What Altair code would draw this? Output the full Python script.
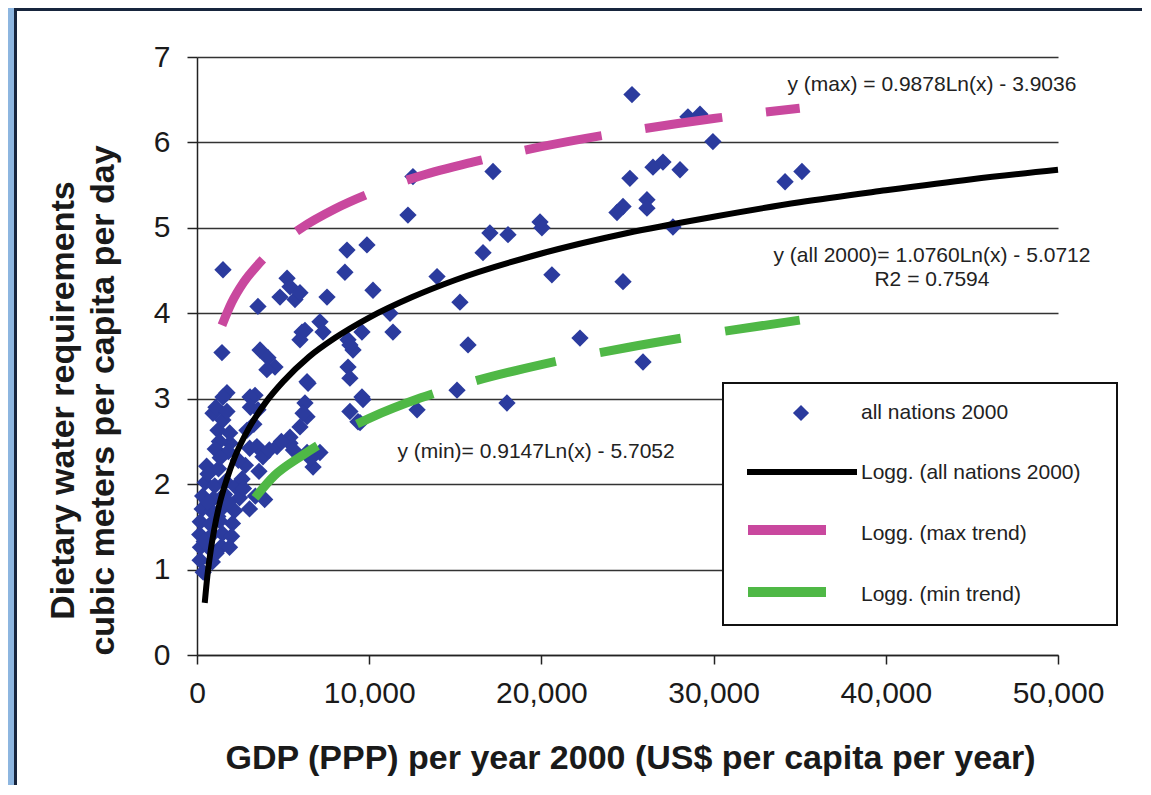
import altair as alt
import pandas as pd

FONT = "Liberation Sans"

# ---- scatter data: GDP (PPP, US$/capita/yr) and dietary water (m3/capita/day)
gdp = [
    25260, 28510, 29210, 29960, 17190, 12540, 12250, 25140, 26480, 27060, 28050,
    24740, 24390, 26130, 26130, 34150, 35130, 27640, 17010, 18060, 16610, 19920,
    20030, 20610, 24740, 15270, 15740, 22240, 25900, 15100, 18000, 13940, 12780,
    1510, 3540, 4820, 5230, 5400, 5690, 7550, 8710, 9870, 8590, 10220, 11210,
    11380, 1450, 3660, 4120, 4530, 4060, 6100, 5980, 7140, 7320, 9580, 8770,
    9060, 8770, 8880, 6390, 1740, 3370, 9580, 6270, 5980, 8880, 6270, 6390,
    8880, 9350, 9470, 9640,
    1510, 930, 1220, 1920, 3080, 3540, 2900, 3480, 3830, 4650, 5400, 5980,
    6160, 6450, 5400, 6390, 7140, 6740, 1500, 1100, 1740, 1900, 1300, 4200,
    4900, 5600, 6600, 3300, 3100,
    480, 1030, 1660, 2240, 330, 960, 1600, 2470, 3390, 3930, 300, 850, 1470,
    2180, 3050, 190, 770, 1320, 2060, 160, 730, 1480, 2010, 200, 760, 1420,
    180, 890, 360, 560, 1250, 2810, 1060, 1820, 3060,
    620, 1210, 1830, 2620, 420, 1110, 1890, 640, 1350, 2400, 2700, 3600,
]
water = [
    6.56, 6.30, 6.33, 6.01, 5.66, 5.60, 5.15, 5.58, 5.71, 5.77, 5.68,
    5.25, 5.18, 5.33, 5.23, 5.54, 5.66, 5.01, 4.94, 4.92, 4.71, 5.07,
    5.00, 4.45, 4.37, 4.13, 3.63, 3.71, 3.43, 3.10, 2.95, 4.43, 2.87,
    4.51, 4.08, 4.19, 4.41, 4.31, 4.16, 4.19, 4.74, 4.80, 4.48, 4.27, 4.00,
    3.78, 3.54, 3.57, 3.48, 3.37, 3.34, 3.78, 3.69, 3.90, 3.78, 3.78, 3.69,
    3.57, 3.37, 3.24, 3.20, 3.07, 3.04, 3.02, 3.80, 4.24, 3.63, 2.95, 2.79,
    2.85, 2.73, 2.72, 2.99,
    3.02, 2.83, 2.63, 2.48, 3.02, 2.87, 2.63, 2.44, 2.32, 2.44, 2.55, 2.67,
    2.83, 3.18, 2.48, 2.37, 2.37, 2.20, 2.75, 2.90, 2.85, 2.60, 2.50, 2.40,
    2.50, 2.40, 2.30, 2.70, 2.90,
    2.02, 1.98, 2.03, 1.97, 1.86, 1.83, 1.88, 1.84, 1.86, 1.82, 1.71, 1.68,
    1.72, 1.69, 1.71, 1.56, 1.53, 1.57, 1.54, 1.41, 1.38, 1.42, 1.39, 1.26,
    1.24, 1.27, 1.11, 1.09, 0.97, 2.21, 2.18, 2.22, 2.41, 2.38, 2.42,
    1.79, 1.62, 1.79, 2.06, 1.33, 1.19, 1.26, 2.12, 2.31, 2.28, 1.95, 2.15,
]

# ---- trend curves
all_x = [450, 600, 800, 1000, 1300, 1700, 2200, 3000, 4000, 5000, 6500, 8000,
         10000, 12500, 15000, 20000, 25000, 30000, 35000, 40000, 45000, 50000]
all_y = [0.61, 0.92, 1.23, 1.47, 1.76, 2.04, 2.32, 2.65, 2.96, 3.20, 3.49, 3.71,
         3.95, 4.19, 4.39, 4.70, 4.94, 5.13, 5.30, 5.44, 5.57, 5.68]
max_x = [1450, 2000, 2700, 3500, 4500, 6000, 8000, 10000, 13000, 16000, 20000,
         25000, 30000, 35000]
max_y = [3.86, 4.12, 4.36, 4.56, 4.76, 4.99, 5.22, 5.40, 5.61, 5.77, 5.95,
         6.13, 6.28, 6.40]
min_x = [3370, 4500, 6000, 8000, 10000, 13000, 16000, 20000, 25000, 30000, 35000]
min_y = [1.84, 2.10, 2.32, 2.57, 2.77, 3.01, 3.20, 3.40, 3.60, 3.77, 3.92]

eq_text = ["y (max) = 0.9878Ln(x) - 3.9036",
           "y (all 2000)= 1.0760Ln(x) - 5.0712",
           "R2 = 0.7594",
           "y (min)= 0.9147Ln(x) - 5.7052"]
eq_x = [42680, 42680, 42680, 19690]
eq_y = [6.667, 4.671, 4.390, 2.376]

legend_labels = ["all nations 2000", "Logg. (all nations 2000)",
                 "Logg. (max trend)", "Logg. (min trend)"]

x_ticks = [0, 10000, 20000, 30000, 40000, 50000]
y_ticks = [0, 1, 2, 3, 4, 5, 6, 7]

BLUE = "#2b3b9e"
MAGENTA = "#c9489e"
GREEN = "#4fb846"
W, H = 861, 598

pts = pd.DataFrame({"gdp": gdp, "water": water})
dall = pd.DataFrame({"gdp": all_x, "water": all_y})
dmax = pd.DataFrame({"gdp": max_x, "water": max_y})
dmin = pd.DataFrame({"gdp": min_x, "water": min_y})
deq = pd.DataFrame({"gdp": eq_x, "water": eq_y, "t": eq_text})
one = pd.DataFrame({"a": [0]})

xs = alt.Scale(domain=[0, 50000], nice=False, zero=False)
ys = alt.Scale(domain=[0, 7], nice=False, zero=False)

xaxis = alt.Axis(
    values=x_ticks, format=",d", grid=False,
    title="GDP (PPP) per year 2000 (US$ per capita per year)",
    titleFont=FONT, titleFontSize=34, titleFontWeight="bold", titleColor="#1a1a1a",
    titleX=433, titleY=113, titleAlign="center", titleBaseline="alphabetic",
    labelFont=FONT, labelFontSize=30, labelColor="#1a1a1a", labelPadding=14,
    labelFlush=False, labelOverlap=False,
    tickSize=9, tickWidth=1.5, tickColor="#222222",
    domainColor="#222222", domainWidth=1.5,
)
yaxis = alt.Axis(
    values=y_ticks, grid=True, gridColor="#333333", gridWidth=1.5,
    title=["Dietary water requirements", "cubic meters per capita per day"],
    titleFont=FONT, titleFontSize=34, titleFontWeight="bold", titleColor="#1a1a1a",
    titleX=-124, titleY=343, titleAngle=270, titleAlign="center",
    titleBaseline="alphabetic", titleLineHeight=40,
    labelFont=FONT, labelFontSize=30, labelColor="#1a1a1a", labelPadding=17,
    labelFlush=False, labelOverlap=False,
    tickSize=10, tickWidth=1.5, tickColor="#222222",
    domainColor="#222222", domainWidth=1.5,
)

X = alt.X("gdp:Q", scale=xs, axis=xaxis)
Y = alt.Y("water:Q", scale=ys, axis=yaxis)

scatter = alt.Chart(pts).mark_point(
    shape="diamond", filled=True, size=300, color=BLUE, opacity=1
).encode(x=X, y=Y)

line_all = alt.Chart(dall).mark_line(
    color="black", strokeWidth=6, interpolate="monotone"
).encode(x=X, y=Y)
line_max = alt.Chart(dmax).mark_line(
    color=MAGENTA, strokeWidth=9, strokeDash=[78, 44], interpolate="monotone"
).encode(x=X, y=Y)
line_min = alt.Chart(dmin).mark_line(
    color=GREEN, strokeWidth=9, strokeDash=[82, 45], interpolate="monotone"
).encode(x=X, y=Y)

eqs = alt.Chart(deq).mark_text(
    font=FONT, fontSize=21, color="#222222", align="center", baseline="middle"
).encode(x=X, y=Y, text="t:N")

# ---- frame decoration (page border)
frame_blue = alt.Chart(one).mark_rect(color="#8db6e0").encode(
    x=alt.value(-189), x2=alt.value(-183), y=alt.value(-49), y2=alt.value(800))
frame_left = alt.Chart(one).mark_rect(color="#17253d").encode(
    x=alt.value(-183), x2=alt.value(-180), y=alt.value(-49), y2=alt.value(800))
frame_top = alt.Chart(one).mark_rect(color="#17253d").encode(
    x=alt.value(-183), x2=alt.value(1000), y=alt.value(-49), y2=alt.value(-46))

# ---- legend (drawn box)
leg_box = alt.Chart(one).mark_rect(fill="white", stroke="#111111", strokeWidth=2).encode(
    x=alt.value(526), x2=alt.value(920), y=alt.value(326), y2=alt.value(568))
leg_pt = alt.Chart(one).mark_point(shape="diamond", filled=True, size=260, color=BLUE,
                                   opacity=1).encode(x=alt.value(604), y=alt.value(356))
leg_l1 = alt.Chart(one).mark_rule(color="black", strokeWidth=6).encode(
    x=alt.value(550), x2=alt.value(660), y=alt.value(415))
leg_l2 = alt.Chart(one).mark_rule(color=MAGENTA, strokeWidth=10).encode(
    x=alt.value(551), x2=alt.value(629), y=alt.value(473))
leg_l3 = alt.Chart(one).mark_rule(color=GREEN, strokeWidth=10).encode(
    x=alt.value(551), x2=alt.value(629), y=alt.value(535))
leg_y = [356, 416, 477, 538]
leg_texts = [
    alt.Chart(one).mark_text(font=FONT, fontSize=21, color="#222222", align="left",
                             baseline="middle", text=lab).encode(
        x=alt.value(664), y=alt.value(yy))
    for lab, yy in zip(legend_labels, leg_y)
]

chart = alt.layer(
    scatter, line_all, line_max, line_min, eqs,
    frame_blue, frame_left, frame_top,
    leg_box, leg_pt, leg_l1, leg_l2, leg_l3, *leg_texts,
).properties(
    width=W, height=H,
    autosize=alt.AutoSizeParams(type="none"),
    padding={"left": 189, "top": 49, "right": 84, "bottom": 130},
    background="white",
).configure_view(stroke=None)

chart.save("out.html", embed_options={"renderer": "svg", "actions": False})
